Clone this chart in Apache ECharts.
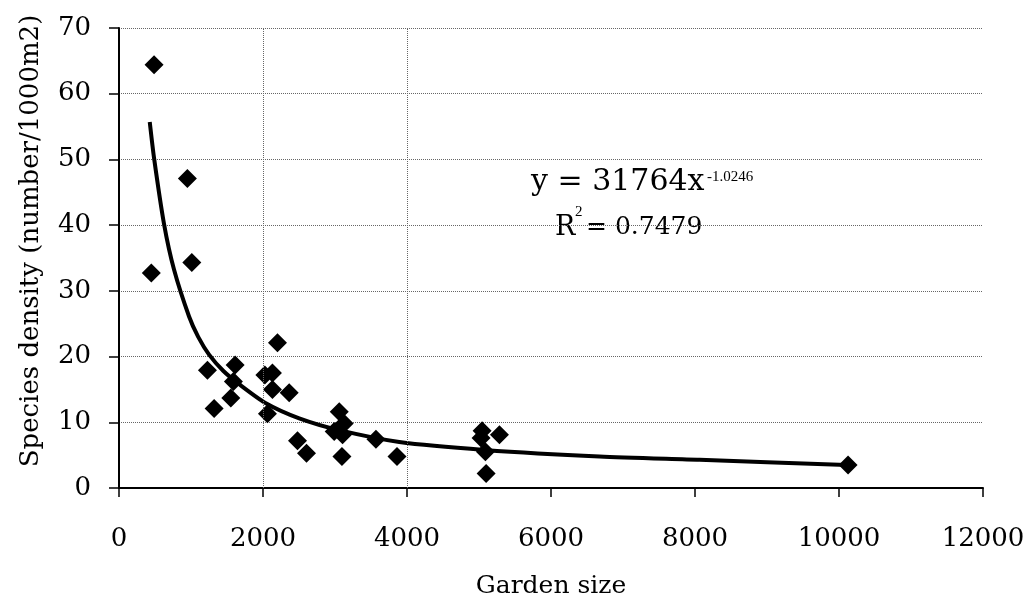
<!DOCTYPE html>
<html>
<head>
<meta charset="utf-8">
<script src="https://cdn.jsdelivr.net/npm/echarts@6/dist/echarts.min.js"></script>
<style>
  html, body { margin: 0; padding: 0; background: #fff; }
  #chart { width: 1028px; height: 599px; }
</style>
</head>
<body>
<div id="chart"></div>
<script>
// Observed garden samples
const gardenSize = [487, 950, 1011, 449, 2201, 1228, 1613, 1589, 1553, 1321,
  2026, 2131, 2131, 2364, 2062, 2479, 2604, 3059, 3128, 2989,
  3105, 3096, 3569, 3861, 5043, 5029, 5284, 5089, 5099, 10126];
const speciesDensity = [64.4, 47.1, 34.3, 32.7, 22.1, 17.9, 18.7, 16.2, 13.7, 12.1,
  17.2, 17.5, 15.0, 14.5, 11.3, 7.2, 5.3, 11.6, 9.8, 8.6,
  8.1, 4.8, 7.4, 4.8, 8.7, 7.6, 8.1, 5.5, 2.2, 3.5];

// Trend curve
const trendX = [427, 487, 625, 765, 973, 1100, 1251, 1450, 1669, 2040, 2503, 3059, 3893, 5075, 6674, 8064, 10104];
const trendY = [55.7, 50.2, 40.2, 33.2, 26.1, 23.0, 20.3, 17.8, 15.8, 12.9, 10.6, 8.8, 7.0, 5.8, 4.8, 4.3, 3.5];

// Axis settings
const xTicks = [0, 2000, 4000, 6000, 8000, 10000, 12000];
const yTicks = [0, 10, 20, 30, 40, 50, 60, 70];
const verticalGrid = [2000, 4000];

const xTitle = 'Garden size';
const yTitle = 'Species density (number/1000m2)';
const eqMain = 'y = 31764x';
const eqExp = '-1.0246';
const r2Main = 'R';
const r2Sup = '2';
const r2Rest = '= 0.7479';

const FONT = 'DejaVu Serif';

const chart = echarts.init(document.getElementById('chart'), null, { renderer: 'canvas' });

const scatterData = gardenSize.map((x, i) => [x, speciesDensity[i]]);
const trendData = trendX.map((x, i) => [x, trendY[i]]);

chart.setOption({
  animation: false,
  backgroundColor: '#ffffff',
  grid: { left: 119, right: 45, top: 28, bottom: 111, containLabel: false, outerBoundsMode: 'none' },
  xAxis: {
    type: 'value',
    min: xTicks[0],
    max: xTicks[xTicks.length - 1],
    interval: 2000,
    name: xTitle,
    nameLocation: 'middle',
    nameGap: 86,
    nameTextStyle: { fontFamily: FONT, fontSize: 25, color: '#000' },
    axisLine: { show: true, onZero: false, lineStyle: { color: '#000', width: 2 } },
    axisTick: { show: true, inside: false, length: 9, lineStyle: { color: '#000', width: 1.5 } },
    axisLabel: { fontFamily: FONT, fontSize: 26, color: '#000', margin: 38, formatter: v => String(v) },
    splitLine: { show: false }
  },
  yAxis: {
    type: 'value',
    min: yTicks[0],
    max: yTicks[yTicks.length - 1],
    interval: 10,
    axisLine: { show: true, onZero: false, lineStyle: { color: '#000', width: 2 } },
    axisTick: { show: true, inside: false, length: 10, lineStyle: { color: '#000', width: 1.5 } },
    axisLabel: { fontFamily: FONT, fontSize: 26, color: '#000', margin: 28, formatter: v => String(v) },
    splitLine: { show: true, lineStyle: { color: '#666', width: 1, type: 'dotted' } }
  },
  series: [
    {
      type: 'line',
      data: trendData,
      smooth: 0.25,
      showSymbol: false,
      lineStyle: { color: '#000', width: 4 },
      z: 2,
      silent: true
    },
    {
      type: 'scatter',
      data: scatterData,
      symbol: 'diamond',
      symbolSize: 19,
      itemStyle: { color: '#000', opacity: 1 },
      z: 3,
      markLine: {
        silent: true,
        symbol: 'none',
        label: { show: false },
        lineStyle: { color: '#666', width: 1, type: 'dotted', opacity: 1 },
        data: verticalGrid.map(v => ({ xAxis: v }))
      }
    }
  ],
  graphic: [
    {
      type: 'text', x: 31, y: 241, rotation: Math.PI / 2,
      style: { text: yTitle, fontFamily: FONT, fontSize: 26, fill: '#000', align: 'center', verticalAlign: 'middle' }
    },
    {
      type: 'text', x: 531, y: 167,
      style: { text: eqMain, fontFamily: FONT, fontSize: 30, fill: '#000', align: 'left', verticalAlign: 'top' }
    },
    {
      type: 'text', x: 707, y: 170,
      style: { text: eqExp, fontFamily: 'Liberation Serif', fontSize: 15, fill: '#000', align: 'left', verticalAlign: 'top' }
    },
    {
      type: 'text', x: 555, y: 214,
      style: { text: r2Main, fontFamily: FONT, fontSize: 27, fill: '#000', align: 'left', verticalAlign: 'top' }
    },
    {
      type: 'text', x: 575, y: 205,
      style: { text: r2Sup, fontFamily: 'Liberation Serif', fontSize: 15, fill: '#000', align: 'left', verticalAlign: 'top' }
    },
    {
      type: 'text', x: 586, y: 215,
      style: { text: r2Rest, fontFamily: FONT, fontSize: 25, fill: '#000', align: 'left', verticalAlign: 'top' }
    }
  ]
});
</script>
</body>
</html>
